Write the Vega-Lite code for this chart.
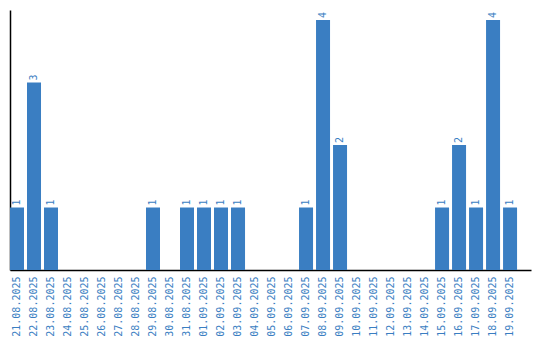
{
  "$schema": "https://vega.github.io/schema/vega-lite/v6.json",
  "width": 521,
  "height": 260,
  "autosize": "none",
  "padding": {"left": 10, "top": 10, "right": 9, "bottom": 70},
  "background": "white",
  "config": {"view": {"stroke": null}},
  "data": {"values": [
    {"date": "21.08.2025", "count": 1},
    {"date": "22.08.2025", "count": 3},
    {"date": "23.08.2025", "count": 1},
    {"date": "24.08.2025", "count": 0},
    {"date": "25.08.2025", "count": 0},
    {"date": "26.08.2025", "count": 0},
    {"date": "27.08.2025", "count": 0},
    {"date": "28.08.2025", "count": 0},
    {"date": "29.08.2025", "count": 1},
    {"date": "30.08.2025", "count": 0},
    {"date": "31.08.2025", "count": 1},
    {"date": "01.09.2025", "count": 1},
    {"date": "02.09.2025", "count": 1},
    {"date": "03.09.2025", "count": 1},
    {"date": "04.09.2025", "count": 0},
    {"date": "05.09.2025", "count": 0},
    {"date": "06.09.2025", "count": 0},
    {"date": "07.09.2025", "count": 1},
    {"date": "08.09.2025", "count": 4},
    {"date": "09.09.2025", "count": 2},
    {"date": "10.09.2025", "count": 0},
    {"date": "11.09.2025", "count": 0},
    {"date": "12.09.2025", "count": 0},
    {"date": "13.09.2025", "count": 0},
    {"date": "14.09.2025", "count": 0},
    {"date": "15.09.2025", "count": 1},
    {"date": "16.09.2025", "count": 2},
    {"date": "17.09.2025", "count": 1},
    {"date": "18.09.2025", "count": 4},
    {"date": "19.09.2025", "count": 1}
  ]},
  "encoding": {
    "x": {
      "field": "date", "type": "nominal", "sort": null,
      "scale": {"paddingInner": 0.176, "paddingOuter": 0.41, "align": 0},
      "axis": {
        "title": null, "labelAngle": 270, "labelAlign": "right", "labelBaseline": "middle",
        "labelFont": "DejaVu Sans Mono", "labelFontSize": 10, "labelColor": "#3a7ec2",
        "labelPadding": 6, "ticks": false, "domainColor": "#000000", "domainWidth": 1.5,
        "grid": false
      }
    },
    "y": {
      "field": "count", "type": "quantitative",
      "scale": {"domain": [0, 4.16], "nice": false},
      "axis": {
        "title": null, "labels": false, "ticks": false, "grid": false,
        "domainColor": "#000000", "domainWidth": 1.5
      }
    }
  },
  "layer": [
    {"mark": {"type": "bar", "color": "#3a7ec2"}},
    {
      "transform": [{"filter": "datum.count > 0"}],
      "mark": {"type": "text", "angle": 270, "align": "left", "baseline": "middle", "dx": 2,
               "font": "DejaVu Sans Mono", "fontSize": 10, "color": "#3a7ec2"},
      "encoding": {"text": {"field": "count", "type": "quantitative"}}
    }
  ]
}
